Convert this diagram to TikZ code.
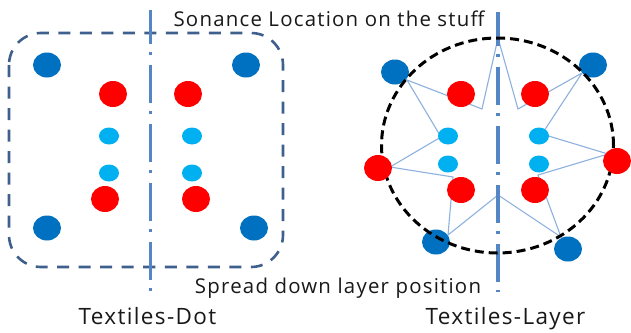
\documentclass[tikz,border=0pt]{standalone}
\usepackage{fontspec}
\setmainfont{Open Sans}[LetterSpace=6]
\usetikzlibrary{shapes.geometric}
\definecolor{dkblue}{HTML}{0070C0}
\definecolor{dotred}{HTML}{FF0000}
\definecolor{cyanb}{HTML}{00B0F0}
\definecolor{axisblue}{HTML}{5485C5}
\definecolor{framec}{HTML}{3F5F8C}
\definecolor{starc}{HTML}{8DB0DE}
\begin{document}
\begin{tikzpicture}[x=1pt,y=-1pt,
  bigblue/.style={ellipse,inner sep=0pt,minimum width=28pt,minimum height=25pt,fill=dkblue},
  bigred/.style={ellipse,inner sep=0pt,minimum width=28pt,minimum height=26pt,fill=dotred},
  smallcyan/.style={ellipse,inner sep=0pt,minimum width=20pt,minimum height=17pt,fill=cyanb},
  axisline/.style={draw=axisblue,line width=3.2pt,dash pattern=on 38pt off 8pt on 3pt off 10pt,dash phase=4pt},
  starline/.style={draw=starc,line width=1.1pt,line join=miter},
  framebox/.style={draw=framec,line width=2.6pt,dash pattern=on 12pt off 9.5pt,rounded corners=32pt},
  ringline/.style={draw=black,line width=3pt,dash pattern=on 9pt off 5pt},
  lbl/.style={inner sep=0pt,anchor=base,font=\fontsize{20.4}{24}\selectfont,text=black!90},
  title/.style={inner sep=0pt,anchor=base,font=\fontsize{22.5}{27}\selectfont,text=black!90}]
\useasboundingbox[fill=white] (0,0) rectangle (631,332);

% left frame
\draw[framebox] (9,33) rectangle (283,267);

% star coordinates (right panel)
\coordinate (s1) at (407,80);
\coordinate (s2) at (482,109);
\coordinate (s3) at (498,38);
\coordinate (s4) at (518,109);
\coordinate (s5) at (582,73);
\coordinate (s6) at (542,134);
\coordinate (s7) at (608,154);
\coordinate (s8) at (538,175);
\coordinate (s9) at (561,237);
\coordinate (s10) at (498,195);
\coordinate (s11) at (448,235);
\coordinate (s12) at (453,177);
\coordinate (s13) at (390,167);
\coordinate (s14) at (441,137);
\draw[starline] (s1) -- (s2) -- (s3) -- (s4) -- (s5) -- (s6) -- (s7) -- (s8) -- (s9) -- (s10) -- (s11) -- (s12) -- (s13) -- (s14) -- cycle;

% axis lines
\coordinate (la) at (150.5,10);
\coordinate (lb) at (150.5,292);
\coordinate (ra) at (498,12);
\coordinate (rb) at (498,292);
\draw[axisline] (la) -- (lb);
\draw[axisline] (ra) -- (rb);

% left panel dots
\node[bigblue] (lb1) at (47,65) {};
\node[bigblue] (lb2) at (246,65) {};
\node[bigblue] (lb3) at (47,228) {};
\node[bigblue] (lb4) at (254,228) {};
\node[bigred] (lr1) at (113,94) {};
\node[bigred] (lr2) at (188,94) {};
\node[bigred] (lr3) at (105,199) {};
\node[bigred] (lr4) at (196,199) {};
\node[smallcyan] (lc1) at (109,136) {};
\node[smallcyan] (lc2) at (192,136) {};
\node[smallcyan] (lc3) at (109,173) {};
\node[smallcyan] (lc4) at (192,173) {};

% right panel dots
\node[bigblue] (rb1) at (395,72) {};
\node[bigblue] (rb2) at (593,65) {};
\node[bigblue] (rb3) at (436,242) {};
\node[bigblue] (rb4) at (568,249) {};

% dashed ring
\draw[ringline] (497.5,145.5) ellipse [x radius=116pt, y radius=107.5pt];

\node[bigred] (rr1) at (461,94) {};
\node[bigred] (rr2) at (535,94) {};
\node[bigred] (rr3) at (378,168) {};
\node[bigred] (rr4) at (617,161) {};
\node[bigred] (rr5) at (461,190) {};
\node[bigred] (rr6) at (535,190) {};
\node[smallcyan] (rc1) at (448,136) {};
\node[smallcyan] (rc2) at (539,136) {};
\node[smallcyan] (rc3) at (448,164) {};
\node[smallcyan] (rc4) at (539,164) {};

% labels
\node[lbl] (top) at (329,27) {Sonance Location on the stuff};
\node[lbl] (bot) at (338,293) {Spread down layer position};
\node[title] (tdot) at (147.5,324) {Textiles-Dot};
\node[title] (tlay) at (505.5,324) {Textiles-Layer};
\end{tikzpicture}
\end{document}
